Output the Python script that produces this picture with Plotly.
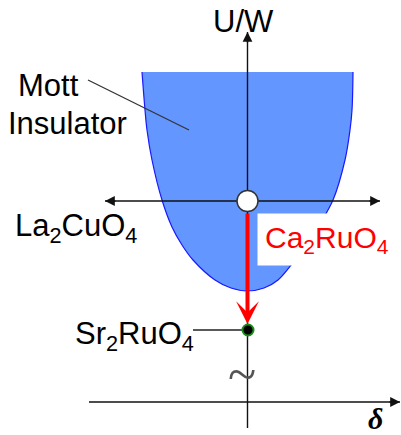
import plotly.graph_objects as go

W, H = 401, 435

# Mott-insulator dome boundary (delta, U/W) in picture units
mott_delta = [142, 145, 147, 152, 162, 172, 182, 193, 215, 231, 247.5, 264, 278, 295, 307, 318, 333, 345, 350, 352, 353]
mott_uw = [363, 325, 305, 275, 235, 208, 190, 175, 155, 147, 144, 147, 155, 175, 190, 208, 235, 275, 305, 325, 363]

# compounds
ca2ruo4_delta, ca2ruo4_uw = 247.5, 234
sr2ruo4_delta, sr2ruo4_uw = 248, 105

# axes extents
upper_axis_delta = [105, 380]
upper_axis_uw = [234, 234]
uw_axis_delta = [247.5, 247.5]
uw_axis_uw = [7, 403]
lower_axis_delta = [89, 400]
lower_axis_uw = [33, 33]

# leader lines
mott_leader_delta = [88, 189]
mott_leader_uw = [355, 305]
sr_leader_delta = [193, 247.5]
sr_leader_uw = [105, 105]

# red arrow (Ca2RuO4 -> Sr2RuO4)
arrow_tail_uw = 223
arrow_tip_uw = 111

fig = go.Figure()

# dome fill
fig.add_trace(go.Scatter(x=mott_delta, y=mott_uw, mode="lines", fill="toself",
                         fillcolor="rgb(100,150,255)", line=dict(width=0, shape="spline"),
                         hoverinfo="skip"))
# dome outline (sides only)
fig.add_trace(go.Scatter(x=mott_delta, y=mott_uw, mode="lines",
                         line=dict(color="rgb(25,25,255)", width=1.2, shape="spline"),
                         hoverinfo="skip"))

axis_line = dict(color="#111111", width=1.4)
for xs, ys in [(upper_axis_delta, upper_axis_uw), (uw_axis_delta, uw_axis_uw),
               (lower_axis_delta, lower_axis_uw)]:
    fig.add_trace(go.Scatter(x=xs, y=ys, mode="lines", line=axis_line, hoverinfo="skip"))

fig.add_trace(go.Scatter(x=mott_leader_delta, y=mott_leader_uw, mode="lines",
                         line=dict(color="#333333", width=1.3), hoverinfo="skip"))
fig.add_trace(go.Scatter(x=sr_leader_delta, y=sr_leader_uw, mode="lines",
                         line=dict(color="#222222", width=1.3), hoverinfo="skip"))

# Ca2RuO4 open circle
fig.add_trace(go.Scatter(x=[ca2ruo4_delta], y=[ca2ruo4_uw], mode="markers",
                         marker=dict(size=21, color="white", line=dict(color="#333333", width=1.5)),
                         hoverinfo="skip"))
# Sr2RuO4 dot
fig.add_trace(go.Scatter(x=[sr2ruo4_delta], y=[sr2ruo4_uw], mode="markers",
                         marker=dict(size=11, color="black", line=dict(color="#1a8a1a", width=2)),
                         hoverinfo="skip"))

ann = []

def head(x, y, ax, ay):
    ann.append(dict(x=x, y=y, ax=ax, ay=ay, xref="x", yref="y", axref="x", ayref="y",
                    text="", showarrow=True, arrowhead=2, arrowsize=1.4,
                    arrowwidth=1.4, arrowcolor="#111111"))

head(upper_axis_delta[1], upper_axis_uw[1], upper_axis_delta[1] - 12, upper_axis_uw[1])
head(upper_axis_delta[0], upper_axis_uw[0], upper_axis_delta[0] + 12, upper_axis_uw[0])
head(uw_axis_delta[1], uw_axis_uw[1], uw_axis_delta[1], uw_axis_uw[1] - 12)
head(lower_axis_delta[1], lower_axis_uw[1], lower_axis_delta[1] - 12, lower_axis_uw[1])

# red arrow
ann.append(dict(x=ca2ruo4_delta, y=arrow_tip_uw, ax=ca2ruo4_delta, ay=arrow_tail_uw,
                xref="x", yref="y", axref="x", ayref="y", text="", showarrow=True,
                arrowhead=3, arrowsize=0.95, arrowwidth=4, arrowcolor="#ff0000"))

F = "Arial, 'Liberation Sans', sans-serif"

def label(text, x, y, size=31, color="black", xanchor="left", **kw):
    d = dict(x=x, y=y, xref="x", yref="y", text=text, showarrow=False,
             xanchor=xanchor, yanchor="top", font=dict(family=F, size=size, color=color))
    d.update(kw)
    ann.append(d)

label("U/W", 243.5, 433, xanchor="center")
label("Mott", 16, 369)
label("Insulator", 6, 331)
label("La<sub>2</sub>CuO<sub>4</sub>", 13, 229)
label("Sr<sub>2</sub>RuO<sub>4</sub>", 72.5, 121)
label("Ca<sub>2</sub>RuO<sub>4</sub>", 257, 222, size=30, color="#ff0000",
      bgcolor="white", borderpad=7)
ann.append(dict(x=375, y=34.5, xref="x", yref="y", text="δ", showarrow=False,
                xanchor="center", yanchor="top", borderpad=0,
                font=dict(family="'Liberation Serif', 'Times New Roman', serif", size=30,
                          color="black", style="italic", weight="bold")))
ann.append(dict(x=241.5, y=61, xref="x", yref="y", text="~", showarrow=False,
                xanchor="center", yanchor="middle",
                font=dict(family="'Liberation Serif', serif", size=52, color="#555555")))

fig.update_layout(width=W, height=H, margin=dict(l=0, r=0, t=0, b=0),
                  paper_bgcolor="white", plot_bgcolor="white", showlegend=False,
                  annotations=ann,
                  xaxis=dict(range=[0, W], visible=False, fixedrange=True),
                  yaxis=dict(range=[0, H], visible=False, fixedrange=True))

fig.write_html("out.html")
